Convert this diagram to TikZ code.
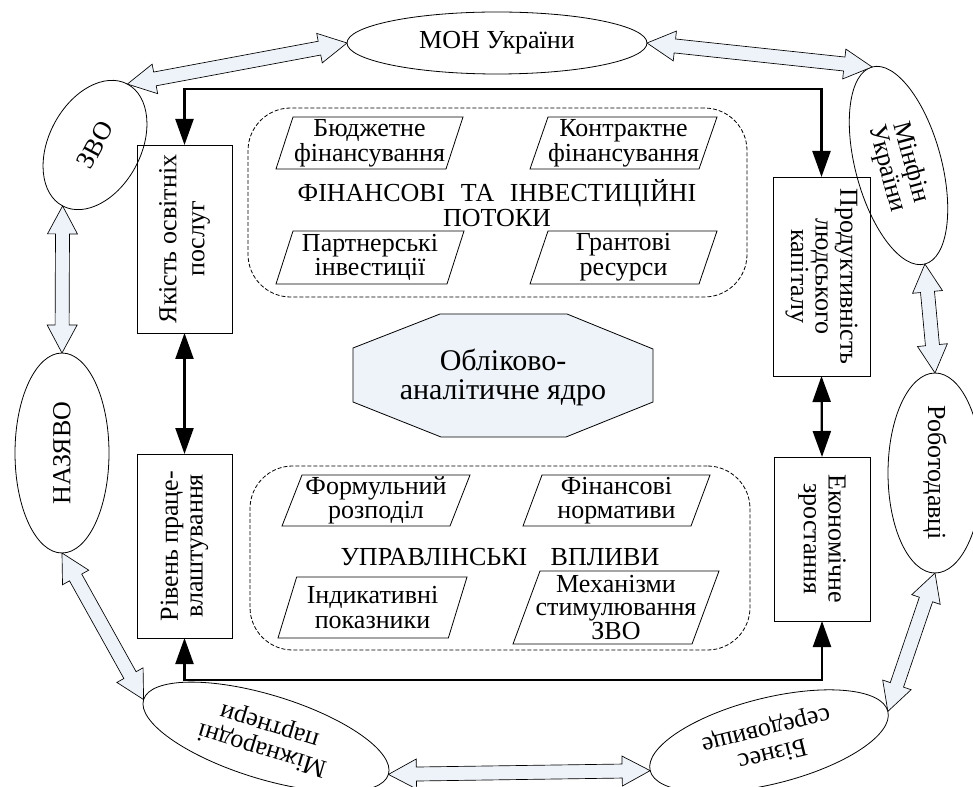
\documentclass[tikz,border=0pt]{standalone}
\usepackage{fontspec}
\setmainfont{Liberation Serif}
\newfontfamily\serfam{Liberation Serif}
\usetikzlibrary{calc,arrows.meta,shapes.geometric}
\definecolor{pale}{HTML}{EEF3FA}
\newcommand\bahl{21pt}
\newcommand\bahw{11.25pt}
\newcommand\basw{5.25pt}
\newcommand\bidir[2]{\draw[blockarr] (#1) -- ($(#1)!\bahl!(#2)!\bahw!90:(#2)$) -- ($(#1)!\bahl!(#2)!\basw!90:(#2)$) -- ($(#2)!\bahl!(#1)!\basw!-90:(#1)$) -- ($(#2)!\bahl!(#1)!\bahw!-90:(#1)$) -- (#2) -- ($(#2)!\bahl!(#1)!\bahw!90:(#1)$) -- ($(#2)!\bahl!(#1)!\basw!90:(#1)$) -- ($(#1)!\bahl!(#2)!\basw!-90:(#2)$) -- ($(#1)!\bahl!(#2)!\bahw!-90:(#2)$) -- cycle;}
\begin{document}
\begin{tikzpicture}[x=0.75pt,y=-0.75pt,
  txt/.style={font=\serfam\fontsize{19.5}{18.5}\selectfont, align=center, inner sep=0pt, outer sep=0pt},
  ell/.style={txt, draw, ellipse, line width=0.6pt},
  box/.style={txt, draw, rectangle, line width=0.6pt},
  grp/.style={draw, rectangle, rounded corners=32pt, line width=0.6pt, dash pattern=on 3pt off 1.5pt, inner sep=0pt, outer sep=0pt},
  para/.style={txt, rectangle},
  blk/.style={line width=1.7pt, {Triangle[length=19.5pt,width=13.5pt]}-{Triangle[length=19.5pt,width=13.5pt]}},
  blockarr/.style={draw, fill=pale, line width=0.5pt, line join=miter}
]
\useasboundingbox (0,0) rectangle (973,787);

% dashed groups
\node[grp, minimum width=374.25pt, minimum height=141.75pt] (g1) at (497.5,202.5) {};
\node[grp, minimum width=375pt, minimum height=138pt] (g2) at (500,558) {};

% group titles
\node[txt] (fint) at (497,203) {ФІНАНСОВІ\hspace{0.6em}ТА\hspace{0.6em}ІНВЕСТИЦІЙНІ\\ПОТОКИ};
\node[txt] (upr) at (500,557) {УПРАВЛІНСЬКІ\hspace{0.9em}ВПЛИВИ};

% parallelogram items
\node[para, minimum width=140.25pt, minimum height=39pt] (p1) at (369.5,143) {Бюджетне\\фінансування};
\node[para, minimum width=140.25pt, minimum height=39pt] (p2) at (623.5,143) {Контрактне\\фінансування};
\node[para, minimum width=141pt, minimum height=39.75pt] (p3) at (370,257.5) {Партнерські\\інвестиції};
\node[para, minimum width=140.25pt, minimum height=39.75pt] (p4) at (623.5,257.5) {Грантові\\ресурси};
\node[para, minimum width=141pt, minimum height=38.25pt] (p5) at (376,500.5) {Формульний\\розподіл};
\node[para, minimum width=140.25pt, minimum height=38.25pt] (p6) at (616.5,500.5) {Фінансові\\нормативи};
\node[para, minimum width=141.75pt, minimum height=45.75pt] (p7) at (372.5,607.5) {Індикативні\\показники};
\node[para, minimum width=154.5pt, minimum height=54.75pt, font=\serfam\fontsize{19.5}{17.5}\selectfont] (p8) at (616,607.5) {Механізми\\стимулювання\\ЗВО};
\foreach \n/\s in {p1/12.75pt,p2/13.5pt,p3/12.75pt,p4/13.5pt,p5/15pt,p6/14.25pt,p7/14pt,p8/20.25pt}
  \draw[line width=0.6pt] (\n.south west) -- ([xshift=\s]\n.north west) -- (\n.north east) -- ([xshift=-\s]\n.south east) -- cycle;

% core octagon
\draw[fill=pale, line width=0.6pt] (353,348) -- (440,314) -- (567,314) -- (653,349) -- (653,402) -- (566,437) -- (441,437) -- (353,402) -- cycle;
\node[txt, font=\serfam\fontsize{22.5}{21.75}\selectfont] (core) at (503,377) {Обліково-\\аналітичне ядро};

% side boxes
\node[box, rotate=90, minimum width=141pt, minimum height=71.25pt, font=\serfam\fontsize{19.5}{21}\selectfont] (yak) at (184.5,239) {Якість освітніх\\послуг};
\node[box, rotate=90, minimum width=138pt, minimum height=71.25pt] (riv) at (184.5,546) {Рівень праце-\\влаштування};
\node[box, rotate=-90, minimum width=149.25pt, minimum height=72.75pt] (prod) at (821.5,276.5) {Продуктивність\\людського\\капіталу};
\node[box, rotate=-90, minimum width=123pt, minimum height=72pt] (eko) at (822,539) {Економічне\\зростання};

% black connectors
\draw[blk] (yak.east) -- ++(0,-56) -| (prod.west);
\draw[blk] (riv.west) -- ++(0,42) -| (eko.east);
\draw[blk] (yak.west) -- (riv.east);
\draw[blk] (prod.east) -- (eko.west);

% outer ellipses
\node[ell, minimum width=225pt, minimum height=46.5pt] (mon) at (497,43) {МОН України};
\node[ell, rotate=62, minimum width=103.5pt, minimum height=69pt] (zvo) at (95,145) {ЗВО};
\node[ell, rotate=-75, minimum width=153pt, minimum height=64.5pt] (minfin) at (898.5,165.5) {Мінфін\\України};
\node[ell, rotate=-90, minimum width=150pt, minimum height=70.5pt] (rob) at (935,473) {Роботодавці};
\node[ell, rotate=194, minimum width=183.75pt, minimum height=64.5pt] (biz) at (769,741) {Бізнес\\середовище};
\node[ell, rotate=163, minimum width=192pt, minimum height=63pt] (mizh) at (266,737) {Міжнародні\\партнери};
\node[ell, rotate=90, minimum width=150pt, minimum height=70.5pt] (naz) at (62,453) {НАЗЯВО};

% block double arrows
\bidir{zvo.east}{mon.west}
\bidir{mon.east}{minfin.west}
\bidir{minfin.east}{rob.west}
\bidir{rob.east}{biz.west}
\bidir{biz.east}{mizh.west}
\bidir{mizh.east}{naz.west}
\bidir{naz.east}{zvo.west}
\end{tikzpicture}
\end{document}
